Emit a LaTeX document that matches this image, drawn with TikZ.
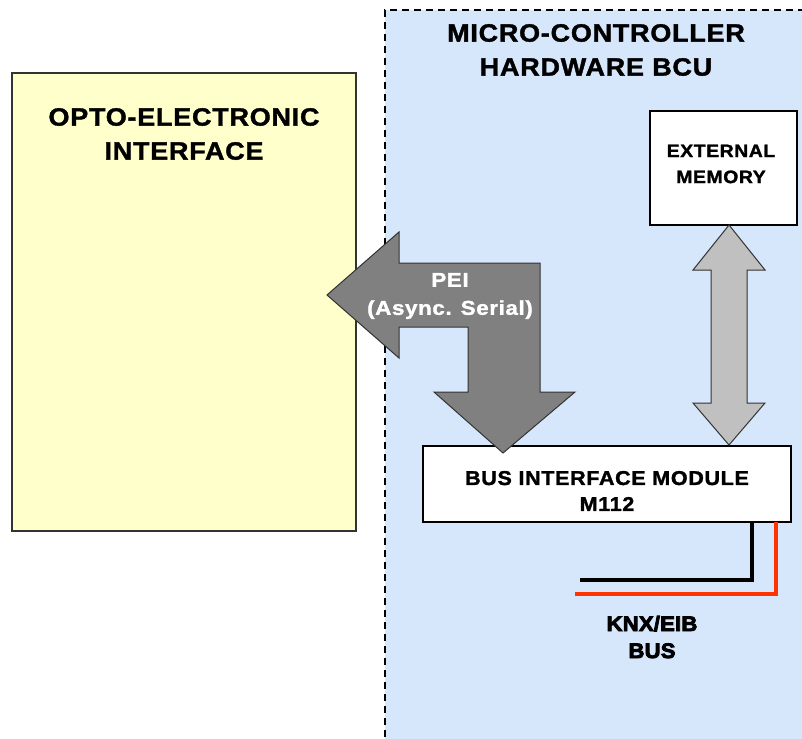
\documentclass[tikz,border=0pt]{standalone}
\usepackage{fontspec}
\setmainfont{Liberation Sans}[FakeStretch=1.08,LetterSpace=3,BoldFeatures={FakeBold=1.5}]
\newfontfamily\widefont{Liberation Sans}[FakeStretch=1.12,LetterSpace=3,BoldFeatures={FakeBold=1.5}]
\newfontfamily\heavyfont{Liberation Sans}[FakeStretch=1.05,LetterSpace=1,BoldFeatures={FakeBold=4}]
\begin{document}
\begin{tikzpicture}[x=1pt,y=-1pt,
  every node/.style={inner sep=0pt,outer sep=0pt},
  boxstyle/.style={draw=black,line width=2pt,fill=white},
  lbl/.style={font=\bfseries,align=center},
  bigarrow/.style={draw=black!80,line width=1pt,line join=miter}]
\useasboundingbox (0,0) rectangle (802,738);
\clip (0,0) rectangle (802,738);
\definecolor{bcuback}{RGB}{214,230,251}
\definecolor{optofill}{RGB}{255,255,204}
\definecolor{darkarrow}{RGB}{128,128,128}
\definecolor{lightarrow}{RGB}{192,192,192}
\definecolor{busred}{RGB}{255,51,0}
% BCU region
\node[draw=black,dashed,dash pattern=on 7pt off 5pt,line width=2.2pt,fill=bcuback,
      minimum width=440pt,minimum height=740pt,anchor=north west] (bcu) at (385,10) {};
\node[lbl,font=\bfseries\fontsize{25}{34}\selectfont] (bcutitle) at (596,50) {MICRO-CONTROLLER\\HARDWARE BCU};
% Opto-electronic interface
\node[draw=black!80,line width=2.2pt,fill=optofill,minimum width=344pt,minimum height=458pt,anchor=north west] (opto) at (12,73) {};
\node[lbl,font=\bfseries\fontsize{25}{34}\selectfont] (optotitle) at (184,134) {OPTO-ELECTRONIC\\INTERFACE};
% External memory
\node[boxstyle,minimum width=147pt,minimum height=114pt,anchor=north west] (mem) at (650,111) {};
\node[lbl,font=\bfseries\fontsize{18}{26}\selectfont] (memtxt) at (721,164) {EXTERNAL\\MEMORY};
% Bus interface module
\node[boxstyle,minimum width=368pt,minimum height=76pt,anchor=north west] (bim) at (423,446) {};
\node[lbl,font=\bfseries\fontsize{20}{26}\selectfont] (bimtxt) at (607,491) {BUS INTERFACE MODULE\\M112};
% PEI arrow
\draw[bigarrow,fill=darkarrow] (327,295) -- (399,232) -- (399,263) -- (540,263) -- (540,392)
  -- (575,392) -- (503,453) -- (434,392) -- (468,392) -- (468,327) -- (399,327) -- (399,358) -- cycle;
\node[lbl,text=white,font=\widefont\bfseries\fontsize{20}{28}\selectfont] (peitxt) at (450,296) {PEI\\(Async. Serial)};
% memory arrow
\draw[bigarrow,fill=lightarrow] (729,225) -- (765,270) -- (747,270) -- (747,403) -- (765,403)
  -- (729,445) -- (693,403) -- (711,403) -- (711,270) -- (693,270) -- cycle;
% bus lines
\coordinate (blackend) at (580,580);
\coordinate (redend) at (575,594);
\draw[line width=4pt,black] ([xshift=-39pt]bim.south east) |- (blackend);
\draw[line width=4pt,busred] ([xshift=-15pt]bim.south east) |- (redend);
\node[lbl,font=\heavyfont\bfseries\fontsize{21}{27}\selectfont] (bustxt) at (652,637) {KNX/EIB\\BUS};
\end{tikzpicture}
\end{document}
